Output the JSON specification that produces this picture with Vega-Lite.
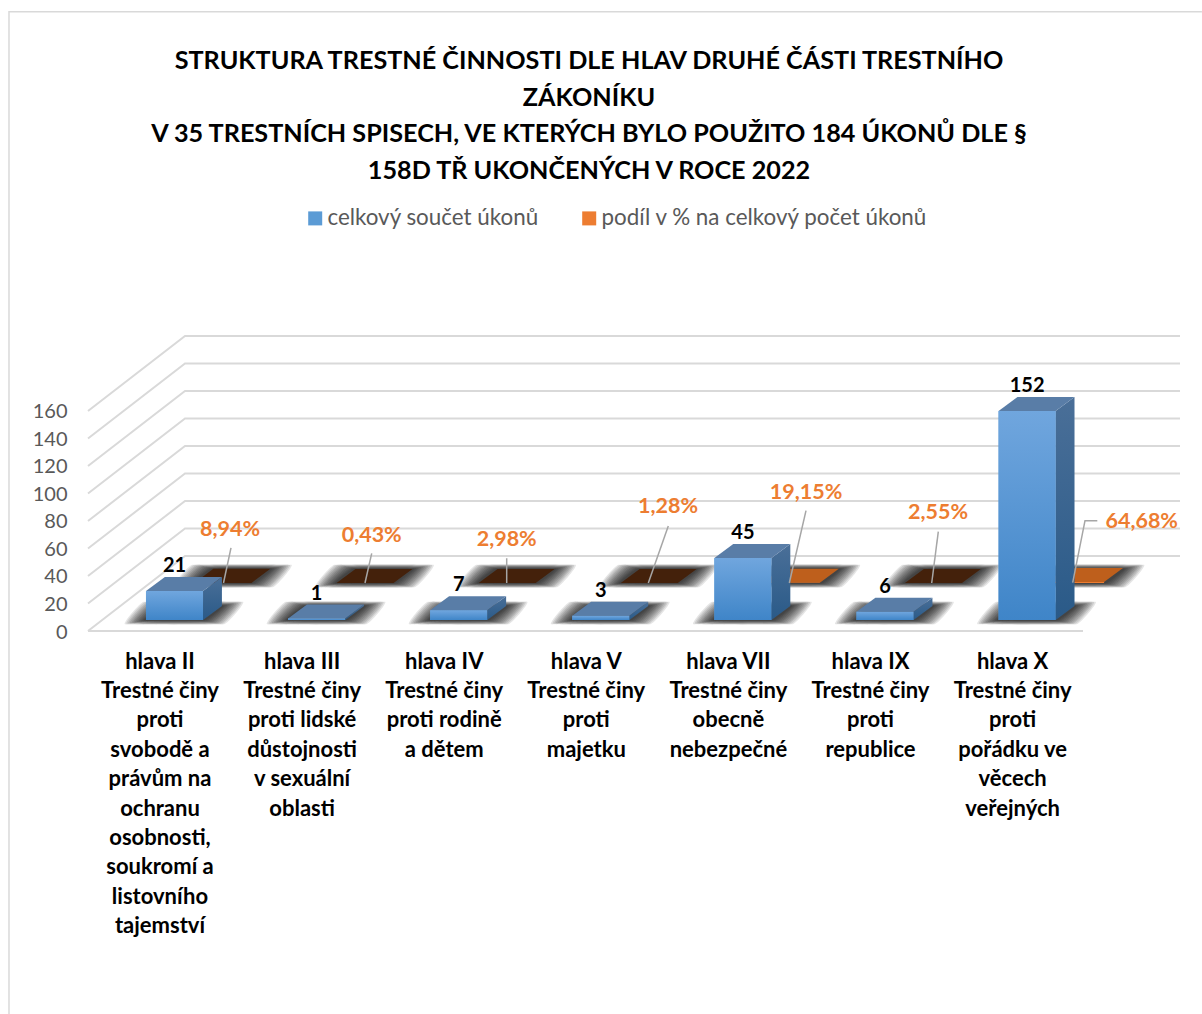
{
"$schema":"https://vega.github.io/schema/vega-lite/v6.json",
"autosize":{"type":"none"},
"padding":{"left":88,"top":336,"right":22,"bottom":383},
"width":1092,"height":295,
"background":"white",
"config":{"view":{"stroke":null},"font":"Lato"},
"title":{"text":["STRUKTURA TRESTNÉ ČINNOSTI DLE HLAV DRUHÉ ČÁSTI TRESTNÍHO","ZÁKONÍKU","V 35 TRESTNÍCH SPISECH, VE KTERÝCH BYLO POUŽITO 184 ÚKONŮ DLE §","158D TŘ UKONČENÝCH V ROCE 2022"],"font":"Lato","fontSize":25.2,"fontWeight":"bold","color":"#000000","anchor":"middle","frame":"group","dx":-45,"offset":-200,"lineHeight":36.4,"baseline":"bottom"},
"data":{"values":[
{"i":0,"rada":"celkový součet úkonů","hodnota":21},{"i":1,"rada":"celkový součet úkonů","hodnota":1},{"i":2,"rada":"celkový součet úkonů","hodnota":7},{"i":3,"rada":"celkový součet úkonů","hodnota":3},{"i":4,"rada":"celkový součet úkonů","hodnota":45},{"i":5,"rada":"celkový součet úkonů","hodnota":6},{"i":6,"rada":"celkový součet úkonů","hodnota":152},
{"i":0,"rada":"podíl v % na celkový počet úkonů","hodnota":8.94},{"i":1,"rada":"podíl v % na celkový počet úkonů","hodnota":0.43},{"i":2,"rada":"podíl v % na celkový počet úkonů","hodnota":2.98},{"i":3,"rada":"podíl v % na celkový počet úkonů","hodnota":1.28},{"i":4,"rada":"podíl v % na celkový počet úkonů","hodnota":19.15},{"i":5,"rada":"podíl v % na celkový počet úkonů","hodnota":2.55},{"i":6,"rada":"podíl v % na celkový počet úkonů","hodnota":64.68}
]},
"transform":[
{"calculate":"datum.rada=='podíl v % na celkový počet úkonů'","as":"zadni"},
{"calculate":"datum.i-0.2007+(datum.zadni?0.341:0)","as":"x0"},
{"calculate":"datum.x0+0.4014","as":"x1"},
{"calculate":"datum.zadni?34.9:8","as":"yb"},
{"calculate":"datum.yb+(datum.zadni?datum.hodnota/100:datum.hodnota)","as":"yt"}
],
"encoding":{
"x":{"field":"px","type":"quantitative","scale":{"domain":[-0.6087,7.076],"nice":false,"zero":false},
   "axis":{"title":null,"values":[0,1,2,3,4,5,6],"grid":false,"domain":false,"ticks":false,"labelAngle":0,"labelOverlap":false,"labelBound":false,"labelFlush":false,"labelFont":"Lato","labelFontSize":22,"labelFontWeight":"bold","labelColor":"#000000","labelLineHeight":29.4,"labelPadding":20,"labelBaseline":"top","labelAlign":"center","labelOffset":-15,
   "labelExpr":"split(['hlava II|Trestné činy|proti|svobodě a|právům na|ochranu|osobnosti,|soukromí a|listovního|tajemství','hlava III|Trestné činy|proti lidské|důstojnosti|v sexuální|oblasti','hlava IV|Trestné činy|proti rodině|a dětem','hlava V|Trestné činy|proti|majetku','hlava VII|Trestné činy|obecně|nebezpečné','hlava IX|Trestné činy|proti|republice','hlava X|Trestné činy|proti|pořádku ve|věcech|veřejných'][datum.value],'|')"}},
"y":{"field":"py","type":"quantitative","scale":{"domain":[0,214.5],"nice":false,"zero":false},
   "axis":{"title":null,"values":[0,20,40,60,80,100,120,140,160],"grid":false,"domain":false,"ticks":false,"labelFont":"Lato","labelFontSize":20,"labelColor":"#595959","labelPadding":21,"labelFontWeight":"normal","labelOffset":1}}
},
"layer":[
{"data":{"values":[{"u":0},{"u":1},{"u":2}]},
 "transform":[{"calculate":"[-1.1647,-1.1647,7.23][datum.u]","as":"px"},{"calculate":"[-278.5,450.2,450.2][datum.u]","as":"py"}],
 "mark":{"type":"line","stroke":"#d9d9d9","strokeWidth":1.5,"clip":false},
 "encoding":{"order":{"field":"u","type":"quantitative"}}},
{"data":{"values":[{"m":0},{"m":20},{"m":40},{"m":60},{"m":80},{"m":100},{"m":120},{"m":140},{"m":160}]},
 "transform":[{"calculate":"[0,1,2]","as":"u"},{"flatten":["u"]},{"calculate":"[-0.6087,0.0739,7.076][datum.u]","as":"px"},{"calculate":"datum.m+(datum.u==0?0:54.5)","as":"py"}],
 "mark":{"type":"line","stroke":"#d9d9d9","strokeWidth":2},
 "encoding":{"detail":{"field":"m"},"order":{"field":"u","type":"quantitative"}}},
{"data":{"values":[{"u":0},{"u":1}]},
 "transform":[{"calculate":"[-0.6087,6.3933][datum.u]","as":"px"},{"calculate":"0","as":"py"}],
 "mark":{"type":"line","stroke":"#d9d9d9","strokeWidth":2},
 "encoding":{"order":{"field":"u","type":"quantitative"}}},
{"transform":[{"calculate":"[0.08,0.16,0.24,0.32,0.4,0.48,0.56,0.64,0.72,0.8,0.88,0.96]","as":"g"},{"flatten":["g"]},{"calculate":"[0,1,2,3]","as":"v"},{"flatten":["v"]},
 {"calculate":"datum.rada+datum.i+'_'+datum.g","as":"k"},
 {"calculate":"(datum.v==0||datum.v==3?datum.x0-datum.g*0.155:datum.x1+datum.g*0.155)+(datum.v>=2?0.133:0)","as":"px"},
 {"calculate":"datum.v<2?datum.yb-datum.g*3.2:datum.yb+10.2+datum.g*3.2","as":"py"}],
 "mark":{"type":"line","fill":"#000000","fillOpacity":0.1,"strokeWidth":0,"interpolate":"cardinal-closed","tension":0.8},
 "encoding":{"detail":{"field":"k"},"order":{"field":"v","type":"quantitative"}}},
{"transform":[{"filter":"datum.zadni"},{"calculate":"[0,1,2,3]","as":"v"},{"flatten":["v"]},
 {"calculate":"(datum.v==0||datum.v==3?datum.x0:datum.x1)+(datum.v>=2?0.133:0)","as":"px"},
 {"calculate":"datum.yt+(datum.v>=2?10.2:0)","as":"py"},
 {"calculate":"datum.hodnota>=10?'#BE5F1C':'#44210B'","as":"barva"}],
 "mark":{"type":"line","strokeWidth":0},
 "encoding":{"detail":{"field":"i"},"order":{"field":"v","type":"quantitative"},"fill":{"field":"barva","type":"nominal","scale":null}}},
{"transform":[{"calculate":"datum.x0","as":"px"},{"calculate":"datum.x1","as":"px2"},{"calculate":"datum.yt","as":"py"},{"calculate":"datum.yb","as":"py2"}],
 "mark":{"type":"rect"},
 "encoding":{"x2":{"field":"px2"},"y2":{"field":"py2"},
  "color":{"field":"rada","type":"nominal","scale":{"domain":["celkový součet úkonů","podíl v % na celkový počet úkonů"],"range":["#5B9BD5","#ED7D31"]},
   "legend":{"title":null,"orient":"none","legendX":216,"legendY":-129,"direction":"horizontal","columns":2,"columnPadding":39,"symbolType":"square","symbolSize":196,"symbolStrokeWidth":0,"labelFont":"Lato","labelFontSize":22.4,"labelColor":"#595959","labelLimit":500,"labelOffset":1,"padding":0}}}},
{"transform":[{"filter":"!datum.zadni"},{"calculate":"[0,1,2,3]","as":"v"},{"flatten":["v"]},
 {"calculate":"datum.x1+(datum.v==1||datum.v==2?0.133:0)","as":"px"},
 {"calculate":"(datum.v<2?datum.yb:datum.yt)+(datum.v==1||datum.v==2?10.2:0)","as":"py"}],
 "mark":{"type":"line","strokeWidth":0,"fill":{"gradient":"linear","x1":0,"y1":0,"x2":0,"y2":1,"stops":[{"offset":0,"color":"#4A6F98"},{"offset":1,"color":"#2A5A88"}]}},
 "encoding":{"detail":{"field":"i"},"order":{"field":"v","type":"quantitative"}}},
{"transform":[{"filter":"!datum.zadni"},{"calculate":"[0,1,2,3]","as":"v"},{"flatten":["v"]},
 {"calculate":"(datum.v==0||datum.v==3?datum.x0:datum.x1)+(datum.v>=2?0.133:0)","as":"px"},
 {"calculate":"datum.yt+(datum.v>=2?10.2:0)","as":"py"}],
 "mark":{"type":"line","strokeWidth":0,"fill":"#597DA7"},
 "encoding":{"detail":{"field":"i"},"order":{"field":"v","type":"quantitative"}}},
{"transform":[{"filter":"!datum.zadni"},{"calculate":"datum.x0","as":"px"},{"calculate":"datum.x1","as":"px2"},{"calculate":"datum.yt","as":"py"},{"calculate":"datum.yb","as":"py2"}],
 "mark":{"type":"rect","fill":{"gradient":"linear","x1":0,"y1":0,"x2":0,"y2":1,"stops":[{"offset":0,"color":"#70A6DE"},{"offset":1,"color":"#3F85C8"}]}},
 "encoding":{"x2":{"field":"px2"},"y2":{"field":"py2"}}},
{"transform":[{"filter":"datum.zadni"},{"calculate":"[0,1,2]","as":"u"},{"flatten":["u"]},
 {"calculate":"[[0.3976,0.3976,0.3448],[1.3878,1.3878,1.3406],[2.3378,2.3378,2.3378],[3.475,3.475,3.3343],[4.4441,4.4441,4.3265],[5.3751,5.3751,5.3287],[6.4941,6.4075,6.3209]][datum.i][datum.u]","as":"px"},
 {"calculate":"[[60.4,60.4,34.9],[56.5,56.5,34.9],[52.9,52.9,34.9],[76.4,76.4,34.9],[87.5,87.5,34.9],[72.2,72.2,34.9],[80.2,80.2,35.1]][datum.i][datum.u]","as":"py"}],
 "mark":{"type":"line","stroke":"#A6A6A6","strokeWidth":1.5},
 "encoding":{"detail":{"field":"i"},"order":{"field":"u","type":"quantitative"}}},
{"transform":[{"filter":"!datum.zadni"},{"calculate":"datum.i","as":"px"},{"calculate":"datum.yt+18.2","as":"py"}],
 "mark":{"type":"text","font":"Lato","fontSize":20,"fontWeight":"bold","color":"#000000","baseline":"middle","align":"center"},
 "encoding":{"text":{"field":"hodnota","type":"quantitative"}}},
{"transform":[{"filter":"datum.zadni"},
 {"calculate":"[0.3906,1.3878,2.3378,3.4729,4.4441,5.373,6.8065][datum.i]","as":"px"},
 {"calculate":"[73.45,69.3,66.2,90.2,100.6,85.8,79.5][datum.i]","as":"py"},
 {"calculate":"replace(format(datum.hodnota,'.2f'),'.',',')+'%'","as":"popisek"}],
 "mark":{"type":"text","font":"Lato","fontSize":21.5,"fontWeight":"bold","color":"#ED7D31","baseline":"middle","align":"center"},
 "encoding":{"text":{"field":"popisek","type":"nominal"}}}
]
}
